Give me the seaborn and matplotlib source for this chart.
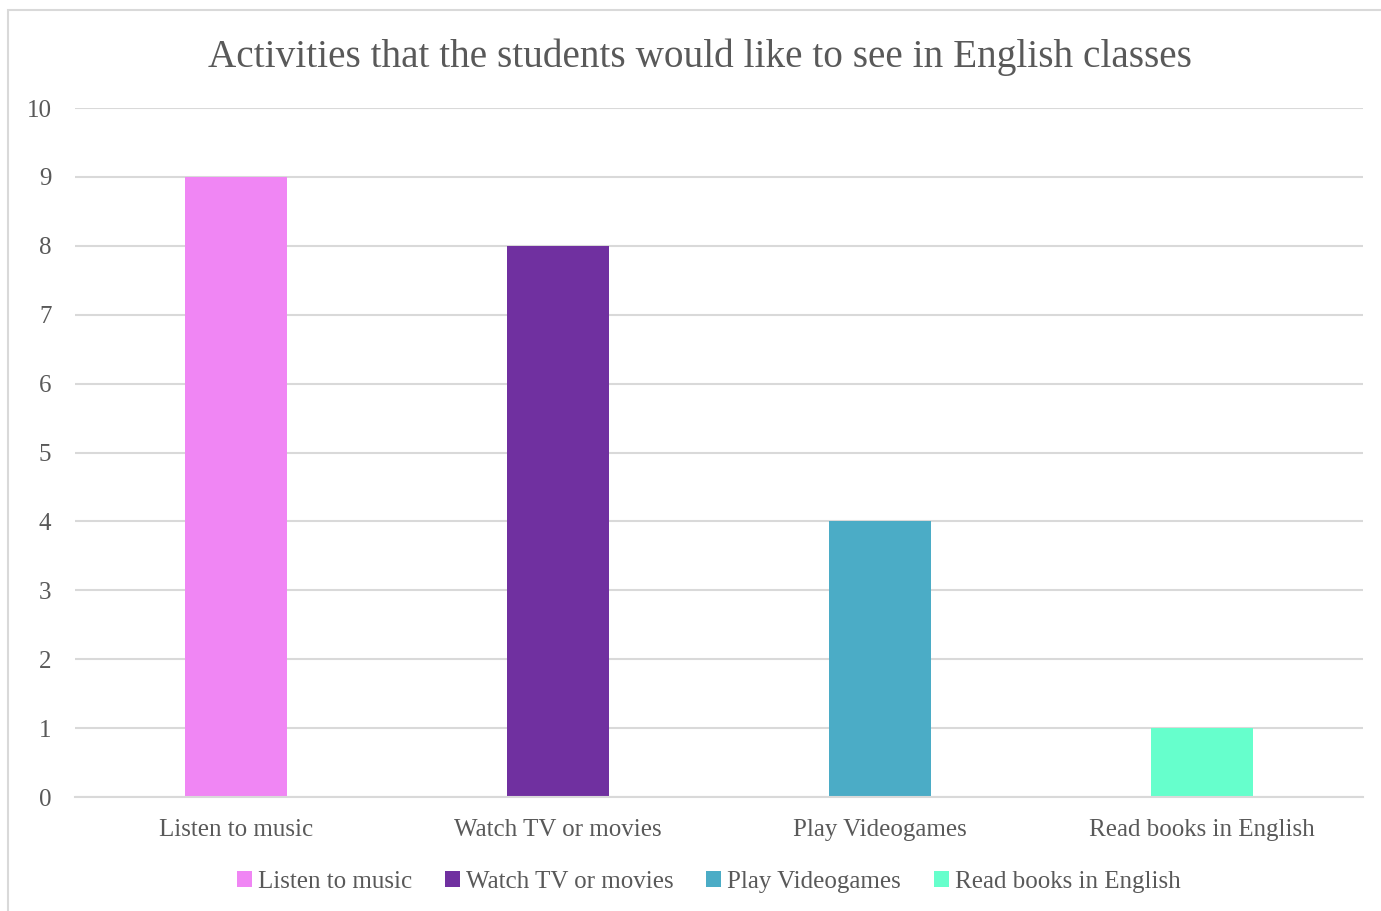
import matplotlib
matplotlib.use("Agg")
import matplotlib.pyplot as plt
import seaborn as sns
import pandas as pd
from matplotlib.patches import Rectangle

categories = ["Listen to music", "Watch TV or movies", "Play Videogames", "Read books in English"]
values = [9, 8, 4, 1]
colors = ["#F086F4", "#7030A0", "#4BACC6", "#66FFCC"]
title = "Activities that the students would like to see in English classes"
yticks = list(range(0, 11))

sns.set_theme(style="white")
plt.rcParams['font.family'] = ['Liberation Serif', 'DejaVu Serif']
text_color = "#595959"
grid_color = "#D9D9D9"

df = pd.DataFrame({"Activity": categories, "Count": values})

fig = plt.figure(figsize=(13.81, 9.11), dpi=100)
ax = fig.add_axes([0.0543, 0.1251, 0.9327, 0.7563])

sns.barplot(data=df, x="Activity", y="Count", hue="Activity", palette=colors,
            width=0.316, dodge=False, legend=True, ax=ax, saturation=1, linewidth=0)

ax.set_ylim(0, 10)
ax.set_yticks(yticks)
ax.set_xlim(-0.5, len(categories) - 0.5)
ax.yaxis.grid(True, color=grid_color, linewidth=1.5)
ax.set_axisbelow(True)
for s in ["top", "right", "left"]:
    ax.spines[s].set_visible(False)
ax.spines["bottom"].set_color(grid_color)
ax.spines["bottom"].set_linewidth(1.5)
ax.set_xlabel("")
ax.set_ylabel("")
ax.tick_params(axis="both", length=0, labelsize=18, colors=text_color)
ax.tick_params(axis="x", pad=16)
ax.tick_params(axis="y", pad=17)

fig.text(0.507, 0.937, title, ha="center", va="center", fontsize=28.3, color=text_color)

handles, labels = ax.get_legend_handles_labels()
leg = ax.legend(handles, labels, loc="center", bbox_to_anchor=(0.492, -0.123), ncol=4,
                frameon=False, fontsize=18, handlelength=0.6, handleheight=0.6,
                handletextpad=0.25, columnspacing=1.3)
for t in leg.get_texts():
    t.set_color(text_color)

fig.patches.append(Rectangle((8 / 1381, -0.01), 1.0, 1.01 - 10 / 911,
                             transform=fig.transFigure, fill=False,
                             edgecolor=grid_color, linewidth=1.5, zorder=-1))

fig.savefig("out.png", dpi=100)
